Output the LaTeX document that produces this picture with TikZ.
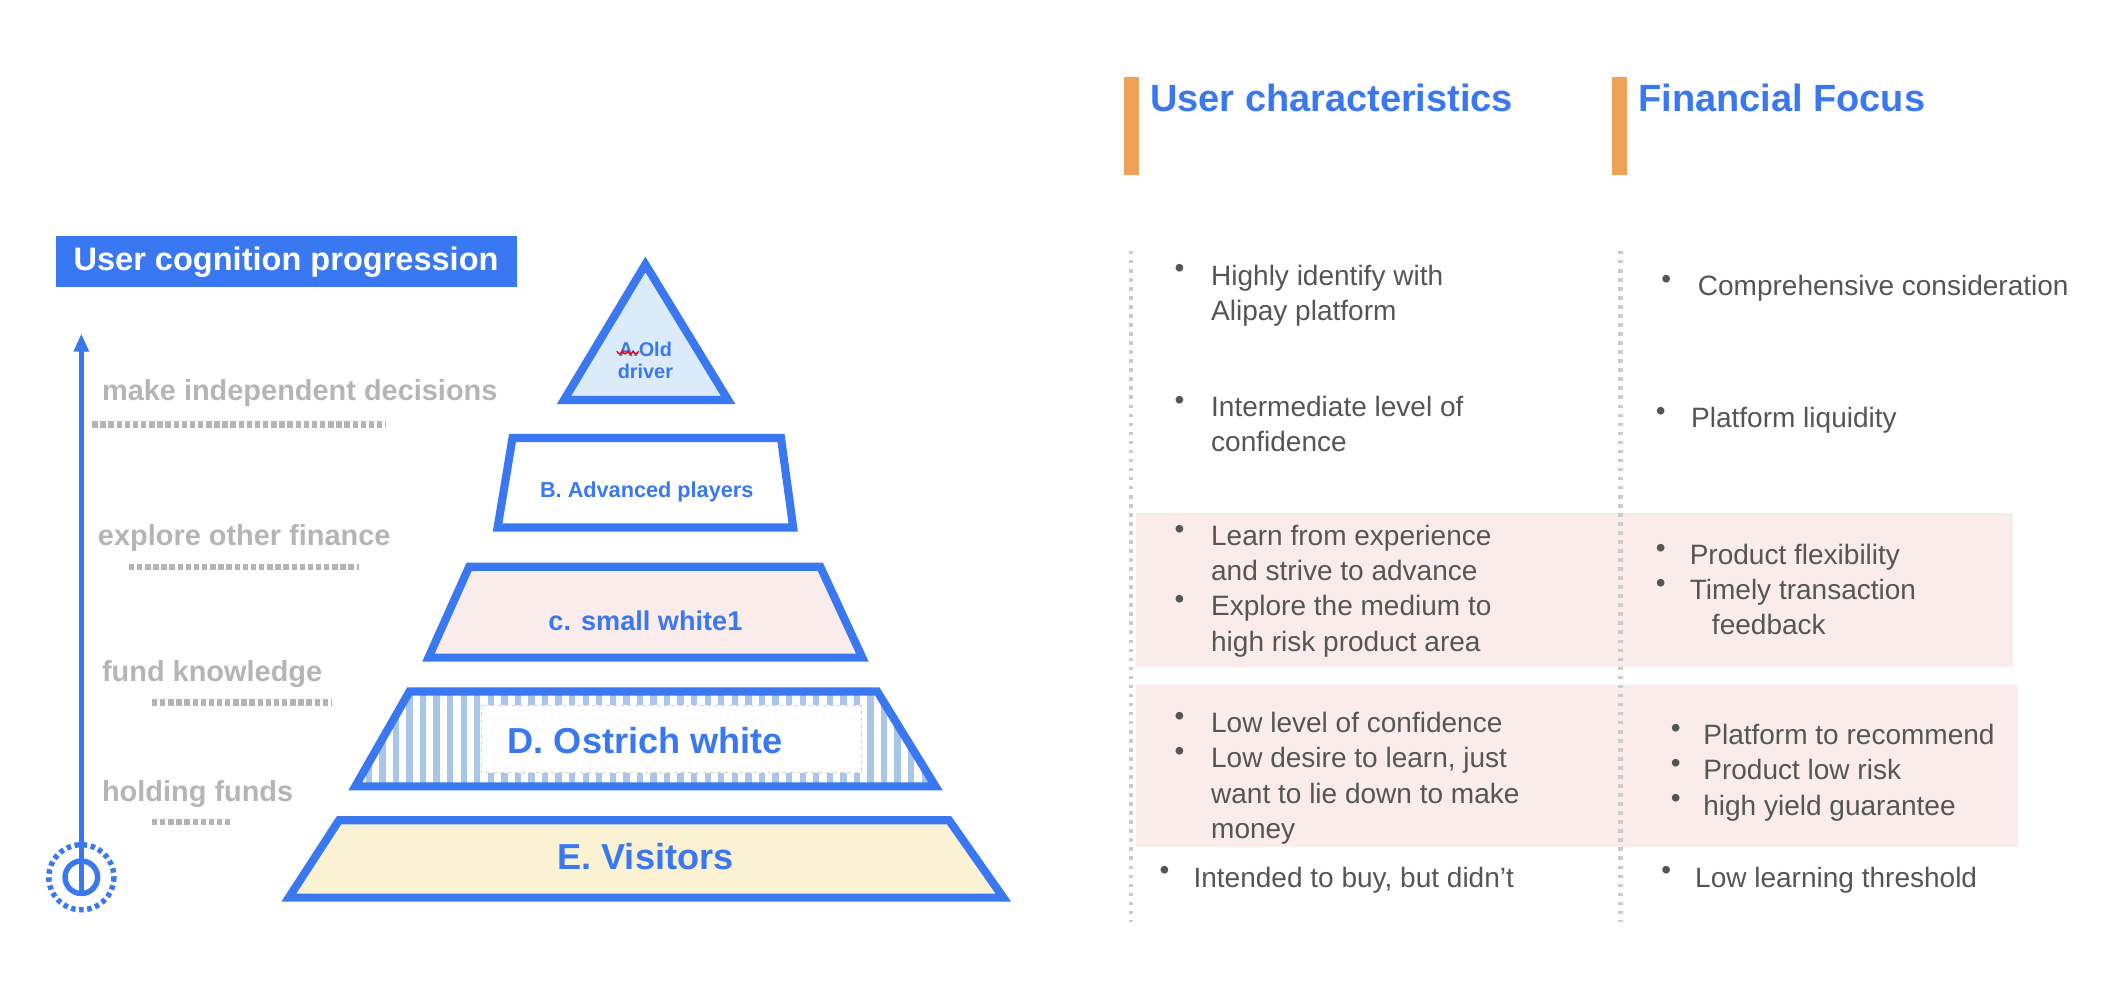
\documentclass[tikz,border=0pt]{standalone}
\usepackage{fontspec}
\setmainfont{Liberation Sans}
\usetikzlibrary{arrows.meta}
\definecolor{bl}{HTML}{3A78F2}
\definecolor{gr}{HTML}{B5B5B5}
\definecolor{tx}{HTML}{555555}
\definecolor{pk}{HTML}{FBECEC}
\definecolor{yl}{HTML}{FBF1D3}
\definecolor{lb}{HTML}{DCEBFA}
\definecolor{st}{HTML}{A9C6EA}
\definecolor{og}{HTML}{F0A157}
\begin{document}
\begin{tikzpicture}[x=0.75pt,y=-0.75pt,
  lvl/.style={draw=bl,line width=4.5pt,line join=miter},
  lab/.style={font=\fontsize{16}{18}\selectfont\bfseries,text=gr,anchor=west,inner sep=0},
  dots/.style={draw=gr,line width=3.5pt,dash pattern=on 3pt off 1.5pt},
  bt/.style={font=\fontsize{15.5}{19.5}\selectfont,text=tx,anchor=north west,align=left,inner sep=0},
  hd/.style={font=\fontsize{21}{24}\selectfont\bfseries,text=bl,anchor=west,inner sep=0},
  vd/.style={draw=gr!70,line width=2.5pt,dash pattern=on 2pt off 3pt}]
\useasboundingbox (0,0) rectangle (1568,729);
% title
\node[fill=bl,text=white,font=\fontsize{18}{20}\selectfont\bfseries,minimum width=255pt,minimum height=28pt,inner sep=0] (title) at (211,193) {User cognition progression};
% arrow and circle
\coordinate (ctr) at (60,647);
\coordinate (atop) at (60,246);
\draw[bl,line width=3pt] (ctr) circle[radius=12];
\draw[bl,line width=3pt,dash pattern=on 2.5pt off 2pt] (ctr) circle[radius=24];
\draw[bl,line width=3pt,-{Triangle[length=10pt,width=8pt]}] ([yshift=-9pt]ctr) -- (atop);
% left labels
\node[lab] (l1) at (75,290) {make independent decisions};
\draw[dots] (68,313) -- (285,313);
\node[lab] (l2) at (72,397) {explore other finance};
\draw[dots] (95,418) -- (265,418);
\node[lab] (l3) at (75,497) {fund knowledge};
\draw[dots] (112,518) -- (245,518);
\node[lab] (l4) at (75,586) {holding funds};
\draw[dots] (112,606) -- (170,606);
% pyramid
\draw[lvl,fill=lb] (476,195) -- (537,295) -- (416,295) -- cycle;
\node[text=bl,font=\fontsize{11}{12}\selectfont\bfseries,align=center] (a) at (476,266) {A.Old\\driver};
\draw[red,line width=0.8pt] (455,259) sin (457,261) cos (459,259) sin (461,261) cos (463,259) sin (465,261) cos (467,259) sin (469,261) cos (471,259);
\draw[lvl,fill=white] (378,323) -- (576,323) -- (585,389) -- (367,389) -- cycle;
\node[text=bl,font=\fontsize{12}{14}\selectfont\bfseries] (b) at (477,363) {B. Advanced players};
\draw[lvl,fill=pk] (346,418) -- (605,418) -- (636,485) -- (316,485) -- cycle;
\node[text=bl,font=\fontsize{15}{17}\selectfont\bfseries] (c) at (476,458) {c. small white1};
\begin{scope}
\clip (302,510) -- (647,510) -- (690,580) -- (262,580) -- cycle;
\foreach \i in {262,272,...,690} \draw[st,line width=3.5pt] (\i,505) -- (\i,585);
\end{scope}
\draw[white,fill=white] (355,520) rectangle (635,570);
\draw[gr!60,dash pattern=on 2pt off 2pt] (355,520) rectangle (635,570);
\draw[lvl] (302,510) -- (647,510) -- (690,580) -- (262,580) -- cycle;
\node[text=bl,font=\fontsize{20}{22}\selectfont\bfseries] (d) at (476,546) {D. Ostrich white};
\draw[lvl,fill=yl] (250,605) -- (700,605) -- (740,662) -- (213,662) -- cycle;
\node[text=bl,font=\fontsize{20}{22}\selectfont\bfseries] (e) at (476,632) {E. Visitors};
% right headings
\fill[og] (829,57) rectangle (840,129);
\node[hd] (h1) at (848,72) {User characteristics};
\fill[og] (1189,57) rectangle (1200,129);
\node[hd] (h2) at (1208,72) {Financial Focus};
% bands
\fill[pk] (838,378) rectangle (1485,492);
\fill[pk] (838,505) rectangle (1488,625);
\draw[vd] (834,185) -- (834,680);
\draw[vd] (1195,185) -- (1195,680);
% bullets col1
\node[bt] at (866,195) {•}; \node[bt] (u1) at (893,195) {Highly identify with\\Alipay platform};
\node[bt] at (866,292) {•}; \node[bt] (u2) at (893,292) {Intermediate level of\\confidence};
\node[bt] at (866,387) {•}; \node[bt] (u3) at (893,387) {Learn from experience\\and strive to advance};
\node[bt] at (866,439) {•}; \node[bt] (u4) at (893,439) {Explore the medium to\\high risk product area};
\node[bt] at (866,525) {•}; \node[bt] (u5) at (893,525) {Low level of confidence};
\node[bt] at (866,551) {•}; \node[bt] (u6) at (893,551) {Low desire to learn, just\\want to lie down to make\\money};
\node[bt] at (855,639) {•}; \node[bt] (u7) at (880,639) {Intended to buy, but didn't};
% col2
\node[bt] at (1225,203) {•}; \node[bt] (f1) at (1252,203) {Comprehensive consideration};
\node[bt] at (1221,300) {•}; \node[bt] (f2) at (1247,300) {Platform liquidity};
\node[bt] at (1221,401) {•}; \node[bt] (f3) at (1246,401) {Product flexibility};
\node[bt] at (1221,427) {•}; \node[bt] (f4) at (1246,427) {Timely transaction\\\hspace*{1.5ex}feedback};
\node[bt] at (1232,534) {•}; \node[bt] (f5) at (1256,534) {Platform to recommend};
\node[bt] at (1232,560) {•}; \node[bt] (f6) at (1256,560) {Product low risk};
\node[bt] at (1232,586) {•}; \node[bt] (f7) at (1256,586) {high yield guarantee};
\node[bt] at (1225,639) {•}; \node[bt] (f8) at (1250,639) {Low learning threshold};
\end{tikzpicture}
\end{document}
